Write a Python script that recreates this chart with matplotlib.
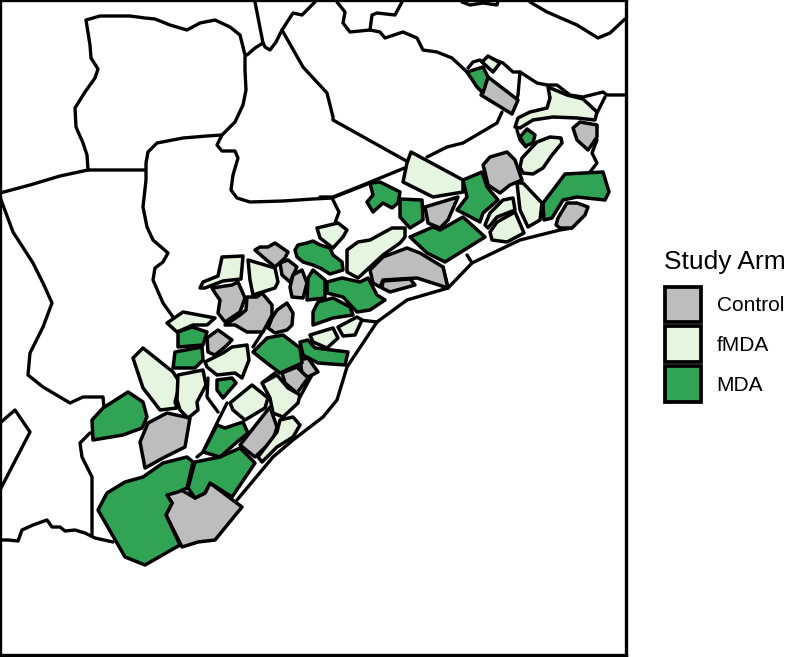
import matplotlib
matplotlib.use("Agg")
import matplotlib.pyplot as plt
from matplotlib.patches import Polygon, Patch

plt.rcParams['font.family'] = ['Liberation Sans', 'DejaVu Sans']

arm_names = ["Control", "fMDA", "MDA"]
arm_colors = ["#BDBDBD", "#E5F5E0", "#31A354"]
legend_title = "Study Arm"

boundary_lines = [
    [(0,193),(30,185),(60,176),(88,170),(145,170)],
    [(88,170),(87,155),(83,143),(76,127),(75,108),(85,92),(95,78),(98,69),(91,58),(90,45),(86,20),(100,16),(130,16),(145,18),(155,19),(170,25),(187,30),(200,23),(215,20),(230,27),(240,35),(245,55),(245,70),(246,90),(243,105),(235,122),(222,135),(217,145),(222,151),(235,151),(238,158),(233,175),(231,190),(237,198),(250,202),(283,201),(313,199),(332,198),(360,187),(370,183)],
    [(222,135),(207,136),(183,138),(157,143),(148,152),(146,163),(146,180),(143,207),(147,227),(153,240),(168,253),(163,262),(155,268),(153,280),(163,303),(173,317)],
    [(332,198),(339,212),(335,223)],
    [(0,197),(13,232),(33,263),(43,283),(52,303),(43,327),(30,353),(28,375),(43,387),(70,403),(83,397),(103,397),(104,407)],
    [(0,423),(15,410),(30,432),(0,490)],
    [(90,433),(80,443),(82,457),(92,477),(92,535)],
    [(0,540),(8,540),(18,541),(22,530),(33,525),(47,520),(52,527),(60,527),(65,531),(75,530),(85,533),(95,538),(113,542)],
    [(247,55),(255,48),(263,43),(265,47),(270,50),(276,42),(282,30),(293,13),(302,15),(315,2)],
    [(263,43),(255,2)],
    [(282,30),(303,67),(327,93),(333,117),(333,120),(410,163)],
    [(337,2),(345,12),(343,23),(350,32),(370,30),(380,32),(385,38),(403,32),(417,38),(423,50),(437,52),(452,58),(467,72)],
    [(370,30),(372,15),(377,13),(395,15),(402,2)],
    [(462,2),(470,5),(483,3),(497,5),(498,1)],
    [(530,2),(547,12),(577,25),(598,38),(610,33),(625,19)],
    [(468,68),(473,62),(480,60),(488,67)],
    [(488,57),(503,63),(513,72),(520,72),(537,83),(547,85),(557,85),(570,95),(583,97),(603,92),(607,95),(625,95)],
    [(520,72),(518,95),(516,102)],
    [(605,97),(597,113)],
    [(427,157),(447,147),(463,143),(497,123),(502,112)],
    [(320,197),(333,197),(363,185),(407,167)],
    [(517,130),(520,140),(526,147)],
    [(597,140),(592,153),(597,163),(590,172)],
    [(443,267),(448,288),(472,263),(520,240),(560,230),(572,228)],
    [(467,255),(472,263)],
    [(448,288),(407,300),(377,322),(347,367),(337,400),(323,417),(293,440),(273,457),(237,500)],
    [(360,320),(377,322)],
    [(208,378),(207,397),(218,412)],
    [(227,403),(217,423),(203,452),(197,457)],
    [(313,373),(300,397)],
    [(262,333),(253,347)],
    [(263,382),(275,373)],
]

control_polys = [
    [(488,77),(518,100),(512,114),(481,95)],
    [(573,128),(580,122),(597,125),(597,137),(593,143),(588,150),(577,140)],
    [(483,165),(490,157),(507,152),(515,160),(522,180),(510,185),(500,193),(488,185),(485,172)],
    [(558,218),(567,203),(577,203),(588,207),(585,215),(572,228),(560,228),(556,225)],
    [(425,207),(458,197),(448,220),(440,228),(428,223)],
    [(370,270),(383,257),(407,248),(420,253),(443,267),(448,288),(417,278),(383,280),(380,287),(373,283)],
    [(383,281),(410,279),(415,285),(390,292),(382,288)],
    [(255,250),(260,247),(268,247),(275,243),(288,252),(285,258),(275,267),(263,257)],
    [(280,263),(288,260),(297,267),(290,282),(282,275)],
    [(293,275),(302,270),(307,283),(303,298),(292,297),(290,287)],
    [(300,360),(308,358),(318,372),(308,377),(302,373)],
    [(282,373),(297,367),(308,378),(297,393),(285,383)],
    [(212,288),(232,285),(238,282),(245,298),(240,312),(225,322),(218,313),(220,300),(215,293)],
    [(225,325),(240,315),(246,310),(247,297),(257,297),(262,293),(272,305),(272,315),(263,332),(247,332),(235,325)],
    [(268,328),(272,318),(277,310),(287,303),(293,313),(292,325),(287,330),(275,333)],
    [(207,338),(218,330),(232,340),(225,347),(215,355),(208,352)],
    [(140,442),(148,423),(167,413),(190,418),(185,447),(163,458),(145,468)],
    [(167,495),(178,488),(195,498),(205,493),(210,483),(242,507),(215,540),(198,542),(182,547),(166,515),(172,503)],
    [(240,445),(270,407),(277,427),(273,440),(255,457)],
]

fmda_polys = [
    [(482,62),(488,56),(500,63),(493,72)],
    [(548,87),(567,95),(583,99),(597,112),(595,120),(577,118),(553,117),(533,120),(520,128),(515,127),(518,118),(530,112),(547,108),(550,98)],
    [(520,167),(522,158),(537,142),(550,137),(561,138),(562,143),(552,155),(543,168),(533,174),(523,173)],
    [(411,152),(463,180),(463,192),(433,197),(403,182),(407,163)],
    [(517,183),(523,183),(542,203),(540,220),(528,227),(520,210)],
    [(485,225),(490,213),(503,200),(513,198),(515,210),(497,217),(488,228)],
    [(490,232),(497,222),(515,212),(524,233),(507,242),(492,240)],
    [(347,250),(358,242),(370,240),(392,228),(405,228),(405,237),(400,243),(383,255),(370,267),(358,278),(347,272)],
    [(317,228),(338,223),(347,230),(343,237),(333,248),(320,238)],
    [(338,327),(357,317),(362,320),(355,335),(343,336)],
    [(310,335),(333,328),(338,338),(327,348),(313,342)],
    [(262,383),(277,375),(288,388),(300,395),(298,403),(283,417),(273,413),(270,398)],
    [(200,288),(203,282),(218,276),(222,257),(243,256),(241,279),(223,281),(205,288)],
    [(248,260),(275,268),(278,282),(275,288),(253,295),(250,280)],
    [(167,323),(183,312),(215,318),(207,325),(193,325),(177,332)],
    [(205,362),(223,353),(232,347),(247,345),(249,360),(242,378),(235,373),(217,375),(207,367)],
    [(133,358),(143,348),(173,372),(180,383),(175,402),(177,408),(160,410),(143,388)],
    [(178,375),(203,370),(206,385),(197,402),(198,410),(188,418),(180,410),(177,400)],
    [(258,457),(277,432),(280,420),(293,417),(300,425),(293,437),(277,447),(262,462)],
    [(230,403),(252,385),(268,398),(265,408),(245,420),(233,410)],
]

mda_polys = [
    [(467,72),(483,67),(488,77),(483,93),(477,87)],
    [(520,137),(527,129),(535,135),(533,143),(525,146)],
    [(463,180),(482,172),(487,187),(498,200),(483,213),(480,222),(467,215),(457,210),(467,197)],
    [(565,174),(603,172),(609,192),(605,200),(577,197),(563,200),(552,218),(544,220),(543,203),(553,190)],
    [(410,237),(433,227),(440,230),(463,217),(485,237),(445,262),(427,253)],
    [(400,199),(422,200),(423,220),(410,228),(400,217)],
    [(370,183),(380,182),(400,192),(398,203),(392,208),(383,203),(373,212),(367,202),(373,195)],
    [(295,250),(298,245),(307,243),(313,241),(320,245),(330,248),(333,255),(342,262),(343,270),(330,274),(320,268),(313,265),(303,262),(297,257)],
    [(308,278),(313,270),(325,280),(325,298),(307,300)],
    [(327,282),(342,278),(360,282),(368,278),(377,295),(385,300),(370,310),(357,312),(343,297),(327,293)],
    [(313,312),(318,302),(333,298),(350,307),(353,315),(333,318),(313,325)],
    [(300,342),(308,340),(315,348),(348,352),(345,365),(318,363),(303,355)],
    [(253,352),(267,338),(283,335),(300,348),(302,363),(280,373),(263,360)],
    [(178,332),(192,327),(207,332),(203,345),(178,347)],
    [(175,352),(202,347),(203,360),(195,368),(173,368)],
    [(217,380),(232,378),(236,383),(223,398),(217,390)],
    [(92,420),(103,408),(128,392),(143,402),(147,417),(142,428),(123,435),(93,440)],
    [(98,510),(107,493),(125,482),(143,477),(163,463),(187,457),(193,462),(187,488),(178,492),(167,495),(172,503),(166,515),(180,545),(145,565),(125,557)],
    [(195,462),(220,457),(240,448),(255,463),(232,497),(210,483),(205,493),(195,498),(188,488)],
    [(203,452),(217,425),(225,428),(243,422),(248,433),(237,442),(220,457)],
]

W, H = 786, 657
fig = plt.figure(figsize=(W/100, H/100), dpi=100)
ax = fig.add_axes([0, 2/H, 625.5/W, 655/H])
ax.set_xlim(0, 625.5)
ax.set_ylim(655, 0)
ax.set_xticks([])
ax.set_yticks([])
for s in ax.spines.values():
    s.set_linewidth(2.4)

for line in boundary_lines:
    ax.plot([p[0] for p in line], [p[1] for p in line], color="black", lw=2.4,
            solid_joinstyle="round", solid_capstyle="round", zorder=1)

for polys, col in zip([control_polys, fmda_polys, mda_polys], arm_colors):
    for poly in polys:
        ax.add_patch(Polygon(poly, closed=True, facecolor=col, edgecolor="black",
                             lw=2.5, joinstyle="round", zorder=2))

handles = [Patch(facecolor=c, edgecolor="black", lw=2.7) for c in arm_colors]
fs = 15
fpx = fs * 100 / 72
leg = fig.legend(handles, arm_names, title=legend_title, loc="upper left",
                 bbox_to_anchor=(664.5/W, 1 - 250/H), frameon=False, fontsize=fs,
                 title_fontsize=19, alignment="left", borderpad=0, borderaxespad=0,
                 handlelength=36/fpx, handleheight=2.28,
                 labelspacing=4/fpx, handletextpad=16/fpx)
leg._legend_box.sep = 9

fig.savefig("out.png", dpi=100)
